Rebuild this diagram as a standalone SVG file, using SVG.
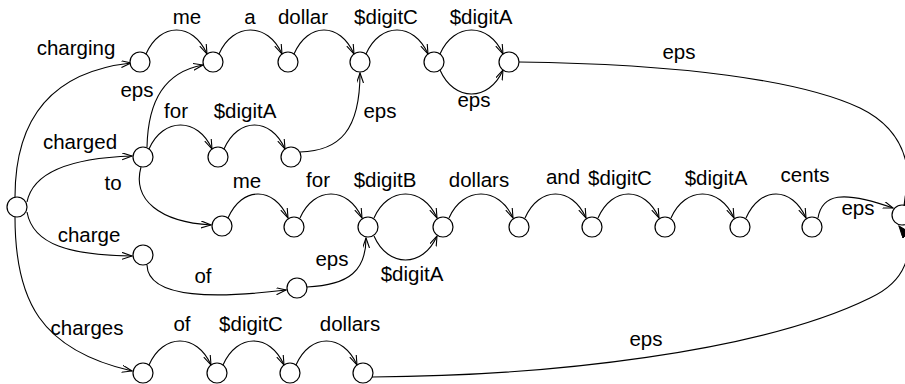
<svg xmlns="http://www.w3.org/2000/svg" width="905" height="384" viewBox="0 0 905 384">
  <style>
    .st { fill: #fff; stroke: #000; stroke-width: 1.2; }
    .ed { fill: none; stroke: #000; stroke-width: 1.1; marker-end: url(#arr); }
    .edf { fill: none; stroke: #000; stroke-width: 1.1; marker-end: url(#arrf); }
    text { font-family: "Liberation Sans", Arial, Helvetica, sans-serif; font-size: 20.5px; fill: #000; text-anchor: middle; }
  </style>
  <defs>
    <marker id="arr" markerUnits="userSpaceOnUse" markerWidth="12" markerHeight="8" refX="10" refY="3.5" orient="auto">
      <path d="M0,0 L10,3.5 L0,7" fill="none" stroke="#000" stroke-width="1.1"/>
    </marker>
    <marker id="arrf" markerUnits="userSpaceOnUse" markerWidth="14" markerHeight="10" refX="12" refY="4.5" orient="auto">
      <path d="M0,0 L12,4.5 L0,9 Z" fill="#000" stroke="#000"/>
    </marker>
  </defs>

  <!-- transitions -->
  <g id="edges">
    <!-- from the start state -->
    <path class="ed" d="M15,197 C15,120 50,72 131,63"/>
    <path class="ed" d="M27,202 C33,172 70,158 132,156"/>
    <path class="ed" d="M27,212 C33,245 70,255 132,256"/>
    <path class="ed" d="M15,217 C15,300 40,350 132,371"/>

    <!-- charging branch -->
    <path class="ed" d="M146,54 C160,22 193,22 207,54"/>
    <path class="ed" d="M219,54 C233,22 268,22 282,54"/>
    <path class="ed" d="M294,54 C308,22 340,22 354,54"/>
    <path class="ed" d="M366,54 C380,22 414,22 428,54"/>
    <path class="ed" d="M440,54 C454,22 489,22 503,54"/>
    <path class="ed" d="M440,70 C454,102 489,102 503,70"/>
    <path class="ed" d="M519,62 C680,64 800,80 860,108 C895,125 906,150 908,175 C909,190 907,200 904,206"/>

    <!-- charged branch -->
    <path class="ed" d="M147,147 C148,100 165,72 203,65"/>
    <path class="ed" d="M149,149 C163,117 198,117 212,149"/>
    <path class="ed" d="M224,149 C238,117 271,117 285,149"/>
    <path class="ed" d="M300,152 C340,151 360,130 360,73"/>
    <path class="ed" d="M141,167 C132,200 160,222 211,225"/>

    <!-- main row -->
    <path class="ed" d="M228,218 C242,186 274,186 288,218"/>
    <path class="ed" d="M300,218 C314,186 348,186 362,218"/>
    <path class="ed" d="M374,218 C388,186 423,186 437,218"/>
    <path class="ed" d="M374,236 C388,268 423,268 437,236"/>
    <path class="ed" d="M449,218 C463,186 499,186 513,218"/>
    <path class="ed" d="M525,218 C539,186 572,186 586,218"/>
    <path class="ed" d="M598,218 C612,186 645,186 659,218"/>
    <path class="ed" d="M671,218 C685,186 720,186 734,218"/>
    <path class="ed" d="M746,218 C760,186 792,186 806,218"/>
    <path class="ed" d="M818,218 C822,194 842,190 893,208"/>

    <!-- charge branch -->
    <path class="ed" d="M147,265 C148,300 220,298 286,290"/>
    <path class="ed" d="M307,287 C350,285 366,270 366,238"/>

    <!-- charges branch -->
    <path class="ed" d="M149,365 C163,333 197,333 211,365"/>
    <path class="ed" d="M223,365 C237,333 270,333 284,365"/>
    <path class="ed" d="M296,365 C310,333 343,333 357,365"/>
    <path class="edf" d="M372,377 C550,376 760,352 870,298 C905,282 918,250 899,226"/>
  </g>

  <!-- labels -->
  <g id="labels">
    <text x="76" y="55">charging</text>
    <text x="187" y="24">me</text>
    <text x="250" y="24">a</text>
    <text x="303" y="24">dollar</text>
    <text x="386" y="24">$digitC</text>
    <text x="481" y="24">$digitA</text>
    <text x="474" y="107">eps</text>
    <text x="679" y="59">eps</text>

    <text x="137" y="97">eps</text>
    <text x="176" y="118">for</text>
    <text x="245" y="118">$digitA</text>
    <text x="380" y="118">eps</text>
    <text x="80" y="149">charged</text>
    <text x="113" y="190">to</text>

    <text x="247" y="188">me</text>
    <text x="318" y="187">for</text>
    <text x="385" y="187">$digitB</text>
    <text x="479" y="187">dollars</text>
    <text x="563" y="184">and</text>
    <text x="620" y="185">$digitC</text>
    <text x="716" y="185">$digitA</text>
    <text x="805" y="182">cents</text>
    <text x="858" y="215">eps</text>
    <text x="412" y="281">$digitA</text>

    <text x="89" y="242">charge</text>
    <text x="203" y="283">of</text>
    <text x="332" y="266">eps</text>

    <text x="87" y="335">charges</text>
    <text x="182" y="331">of</text>
    <text x="251" y="331">$digitC</text>
    <text x="350" y="331">dollars</text>
    <text x="646" y="346">eps</text>
  </g>

  <!-- states -->
  <g id="s0"><circle class="st" cx="17" cy="207" r="10"/></g>

  <g id="s1"><circle class="st" cx="140" cy="62" r="10"/></g>
  <g id="s2"><circle class="st" cx="213" cy="62" r="10"/></g>
  <g id="s3"><circle class="st" cx="288" cy="62" r="10"/></g>
  <g id="s4"><circle class="st" cx="360" cy="62" r="10"/></g>
  <g id="s5"><circle class="st" cx="434" cy="62" r="10"/></g>
  <g id="s6"><circle class="st" cx="509" cy="62" r="10"/></g>

  <g id="s7"><circle class="st" cx="143" cy="157" r="10"/></g>
  <g id="s8"><circle class="st" cx="218" cy="157" r="10"/></g>
  <g id="s9"><circle class="st" cx="291" cy="157" r="10"/></g>

  <g id="s10"><circle class="st" cx="222" cy="226" r="10"/></g>
  <g id="s11"><circle class="st" cx="294" cy="227" r="10"/></g>
  <g id="s12"><circle class="st" cx="368" cy="227" r="10"/></g>
  <g id="s13"><circle class="st" cx="443" cy="227" r="10"/></g>
  <g id="s14"><circle class="st" cx="519" cy="227" r="10"/></g>
  <g id="s15"><circle class="st" cx="592" cy="227" r="10"/></g>
  <g id="s16"><circle class="st" cx="665" cy="227" r="10"/></g>
  <g id="s17"><circle class="st" cx="740" cy="227" r="10"/></g>
  <g id="s18"><circle class="st" cx="812" cy="227" r="10"/></g>
  <g id="s19"><circle class="st" cx="902" cy="215" r="10"/></g>

  <g id="s20"><circle class="st" cx="143" cy="255" r="10"/></g>
  <g id="s21"><circle class="st" cx="297" cy="288" r="10"/></g>

  <g id="s22"><circle class="st" cx="143" cy="373" r="10"/></g>
  <g id="s23"><circle class="st" cx="217" cy="373" r="10"/></g>
  <g id="s24"><circle class="st" cx="290" cy="373" r="10"/></g>
  <g id="s25"><circle class="st" cx="363" cy="373" r="10"/></g>
</svg>
